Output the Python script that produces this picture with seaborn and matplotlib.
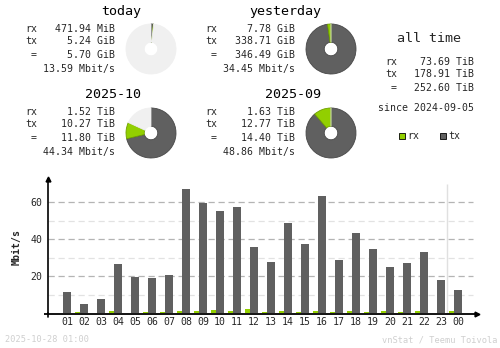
import numpy as np
import pandas as pd
import matplotlib
matplotlib.use("Agg")
import matplotlib.pyplot as plt
import seaborn as sns

# ---- data -------------------------------------------------------------
hours = ["01", "02", "03", "04", "05", "06", "07", "08", "09", "10", "11", "12",
         "13", "14", "15", "16", "17", "18", "19", "20", "21", "22", "23", "00"]
tx_rate = [11.5, 5.0, 7.7, 26.6, 19.8, 19.3, 20.9, 67.2, 59.8, 55.3, 57.5, 35.8,
           27.7, 48.8, 37.5, 63.4, 28.8, 43.4, 34.8, 25.0, 27.2, 33.1, 18.0, 12.6]
rx_rate = [0.0, 0.9, 0.0, 1.1, 0.0, 0.9, 0.9, 1.3, 1.4, 2.0, 1.3, 2.5,
           0.9, 1.4, 0.9, 1.4, 0.9, 1.4, 0.9, 1.4, 0.9, 1.4, 0.0, 1.4]

# summary blocks: title, rx, tx, total, rate, rx/tx size (GiB) and scale
period_titles = ["today", "yesterday", "2025-10", "2025-09"]
period_rx = ["471.94 MiB", "7.78 GiB", "1.52 TiB", "1.63 TiB"]
period_tx = ["5.24 GiB", "338.71 GiB", "10.27 TiB", "12.77 TiB"]
period_total = ["5.70 GiB", "346.49 GiB", "11.80 TiB", "14.40 TiB"]
period_rate = ["13.59 Mbit/s", "34.45 Mbit/s", "44.34 Mbit/s", "48.86 Mbit/s"]
period_rx_val = [0.4609, 7.78, 1.52, 1.63]
period_tx_val = [5.24, 338.71, 10.27, 12.77]
period_full = [346.49, 346.49, 14.40, 14.40]

alltime_rx = "73.69 TiB"
alltime_tx = "178.91 TiB"
alltime_total = "252.60 TiB"
since_text = "since 2024-09-05"
stamp_text = "2025-10-28 01:00"
credit_text = "vnStat / Teemu Toivola"

# ---- style ------------------------------------------------------------
RX = "#92cf00"
RX_EDGE = "#6f9f00"
TX = "#606060"
TX_EDGE = "#474747"
EMPTY = "#f0f0f0"
MONO = "DejaVu Sans Mono"

sns.set_theme(style="white")
plt.rcParams["font.family"] = [MONO]

W, H = 500, 348
fig = plt.figure(figsize=(W / 100, H / 100), dpi=100)
fig.patch.set_facecolor("white")


def fx(px):
    return px / W


def fy(py):
    return 1 - py / H


# ---- summary text blocks ----------------------------------------------
blocks = [
    # title right edge, title y, label x, value right x, row ys, donut centre
    (141.5, 12, 25, 115, [29, 41, 55, 69], (151, 49)),
    (321.5, 12, 205, 295, [29, 41, 55, 69], (331, 49)),
    (141.5, 94, 25, 115, [112, 124, 138, 152], (151, 133)),
    (321.5, 94, 205, 295, [112, 124, 138, 152], (331, 133)),
]

for i, (tx_, ty_, lx, vx, rows, (cx, cy)) in enumerate(blocks):
    fig.text(fx(tx_), fy(ty_), period_titles[i], ha="right", va="center",
             fontsize=9.6, color="black")
    for lab, val, ry in zip(["rx", "tx", " ="],
                            [period_rx[i], period_tx[i], period_total[i]],
                            rows[:3]):
        fig.text(fx(lx), fy(ry), lab, ha="left", va="center", fontsize=7.1)
        fig.text(fx(vx), fy(ry), val, ha="right", va="center", fontsize=7.1)
    fig.text(fx(vx), fy(rows[3]), period_rate[i], ha="right", va="center",
             fontsize=7.1)

    # donut: tx clockwise from the top, then rx, the rest empty
    r = 25
    pax = fig.add_axes([fx(cx - r - 1), fy(cy + r + 1), (2 * r + 2) / W, (2 * r + 2) / H])
    full = period_full[i]
    t = period_tx_val[i] / full
    x = period_rx_val[i] / full
    rest = max(0.0, 1 - t - x)
    sizes = [t, x, rest]
    cols = [TX, RX, EMPTY]
    edges = [TX_EDGE, RX_EDGE, EMPTY]
    wedges, _ = pax.pie(sizes, colors=cols, startangle=90, counterclock=False,
                        wedgeprops=dict(width=0.73, linewidth=0.6),
                        normalize=True)
    for w, ec in zip(wedges, edges):
        w.set_edgecolor(ec)
    pax.set_aspect("equal")
    pax.set_xlim(-1.04, 1.04)
    pax.set_ylim(-1.04, 1.04)
    pax.axis("off")

# all-time block
fig.text(fx(429), fy(39), "all time", ha="center", va="center", fontsize=9.6)
for lab, val, ry in zip(["rx", "tx", " ="],
                        [alltime_rx, alltime_tx, alltime_total],
                        [62, 74, 88]):
    fig.text(fx(385), fy(ry), lab, ha="left", va="center", fontsize=7.1)
    fig.text(fx(474), fy(ry), val, ha="right", va="center", fontsize=7.1)
fig.text(fx(474), fy(108), since_text, ha="right", va="center", fontsize=7.1)

# legend squares
for sx, col, lab in [(399, RX, "rx"), (440, TX, "tx")]:
    fig.patches.append(plt.Rectangle((fx(sx), fy(139)), 5.5 / W, 5.5 / H,
                                     transform=fig.transFigure, facecolor=col,
                                     edgecolor="black", linewidth=0.6))
    fig.text(fx(sx + 8), fy(136), lab, ha="left", va="center", fontsize=7.1)

# ---- hourly bar chart -------------------------------------------------
slot = 17.0
px_per_unit = 1.85
x0_px, x1_px = 48, 477
y0_px, ytop_px = 313.3, 179
ybelow = 0.6  # room under zero for the axis line
bottom_px = y0_px + ybelow * px_per_unit
ax = fig.add_axes([fx(x0_px), fy(bottom_px), (x1_px - x0_px) / W,
                   (bottom_px - ytop_px) / H])
ax.set_facecolor("white")

xmin = (x0_px - 67) / slot
xmax = (x1_px - 67) / slot
ymax = (y0_px - ytop_px) / px_per_unit

pos = np.arange(len(hours), dtype=float)
df_rx = pd.DataFrame({"pos": pos - 0.38, "rate": rx_rate})
df_tx = pd.DataFrame({"pos": pos, "rate": tx_rate})

# dashed grid lines behind the bars
grid_end = (472.7 - 67) / slot
for v in [10, 30, 50]:
    ax.hlines(v, xmin, grid_end, colors="#e2e2e2", linestyles=(0, (5, 3)),
              linewidth=0.9, zorder=0)
for v in [20, 40, 60]:
    ax.hlines(v, xmin, grid_end, colors="#b4b4b4", linestyles=(0, (5, 3)),
              linewidth=0.9, zorder=0)

# marker of the current hour
ax.vlines((447.3 - 67) / slot, 0, (y0_px - 184) / px_per_unit, colors="#e0e0e0",
          linewidth=1.0, zorder=0)

sns.barplot(data=df_rx, x="pos", y="rate", native_scale=True, width=5 / slot,
            color=RX, saturation=1, edgecolor="none", linewidth=0, ax=ax)
sns.barplot(data=df_tx, x="pos", y="rate", native_scale=True, width=8 / slot,
            color=TX, saturation=1, edgecolor="none", linewidth=0, ax=ax)
for p in ax.patches:
    p.set_zorder(3)

ax.set_xlim(xmin, xmax)
ax.set_ylim(-ybelow, ymax)
ax.set_xticks(pos)
ax.set_xticklabels(hours, fontsize=7.1)
ax.set_yticks([20, 40, 60])
ax.set_yticklabels(["20", "40", "60"], fontsize=7.1)
ax.tick_params(axis="both", length=0)
ax.tick_params(axis="x", pad=2)
ax.tick_params(axis="y", pad=4)
ax.set_xlabel("")
ax.set_ylabel("Mbit/s", fontsize=7.1, fontweight="bold", labelpad=6)
for s in ["top", "right", "bottom"]:
    ax.spines[s].set_visible(False)
ax.spines["left"].set_color("black")
ax.spines["left"].set_linewidth(1.2)
ax.spines["left"].set_zorder(1)

# x axis drawn just under the bar bases, with overhangs and arrow heads
ax.plot([xmin - 4 / slot, xmax], [-0.55, -0.55], color="black", lw=1.3,
        clip_on=False, zorder=1, solid_capstyle="butt")
ax.plot([xmin, xmin], [0, -3.5 / px_per_unit], color="black", lw=1.2, clip_on=False)
ax.plot([xmin], [ymax], marker="^", color="black", markersize=3.5, clip_on=False)
ax.plot([xmax], [-0.55], marker=">", color="black", markersize=3.5, clip_on=False)

# footer
fig.text(fx(5), fy(340), stamp_text, ha="left", va="center", fontsize=6.2,
         color="#cfcfcf")
fig.text(fx(497), fy(340), credit_text, ha="right", va="center", fontsize=6.2,
         color="#cfcfcf")

fig.savefig("out.png", dpi=100, facecolor="white")
